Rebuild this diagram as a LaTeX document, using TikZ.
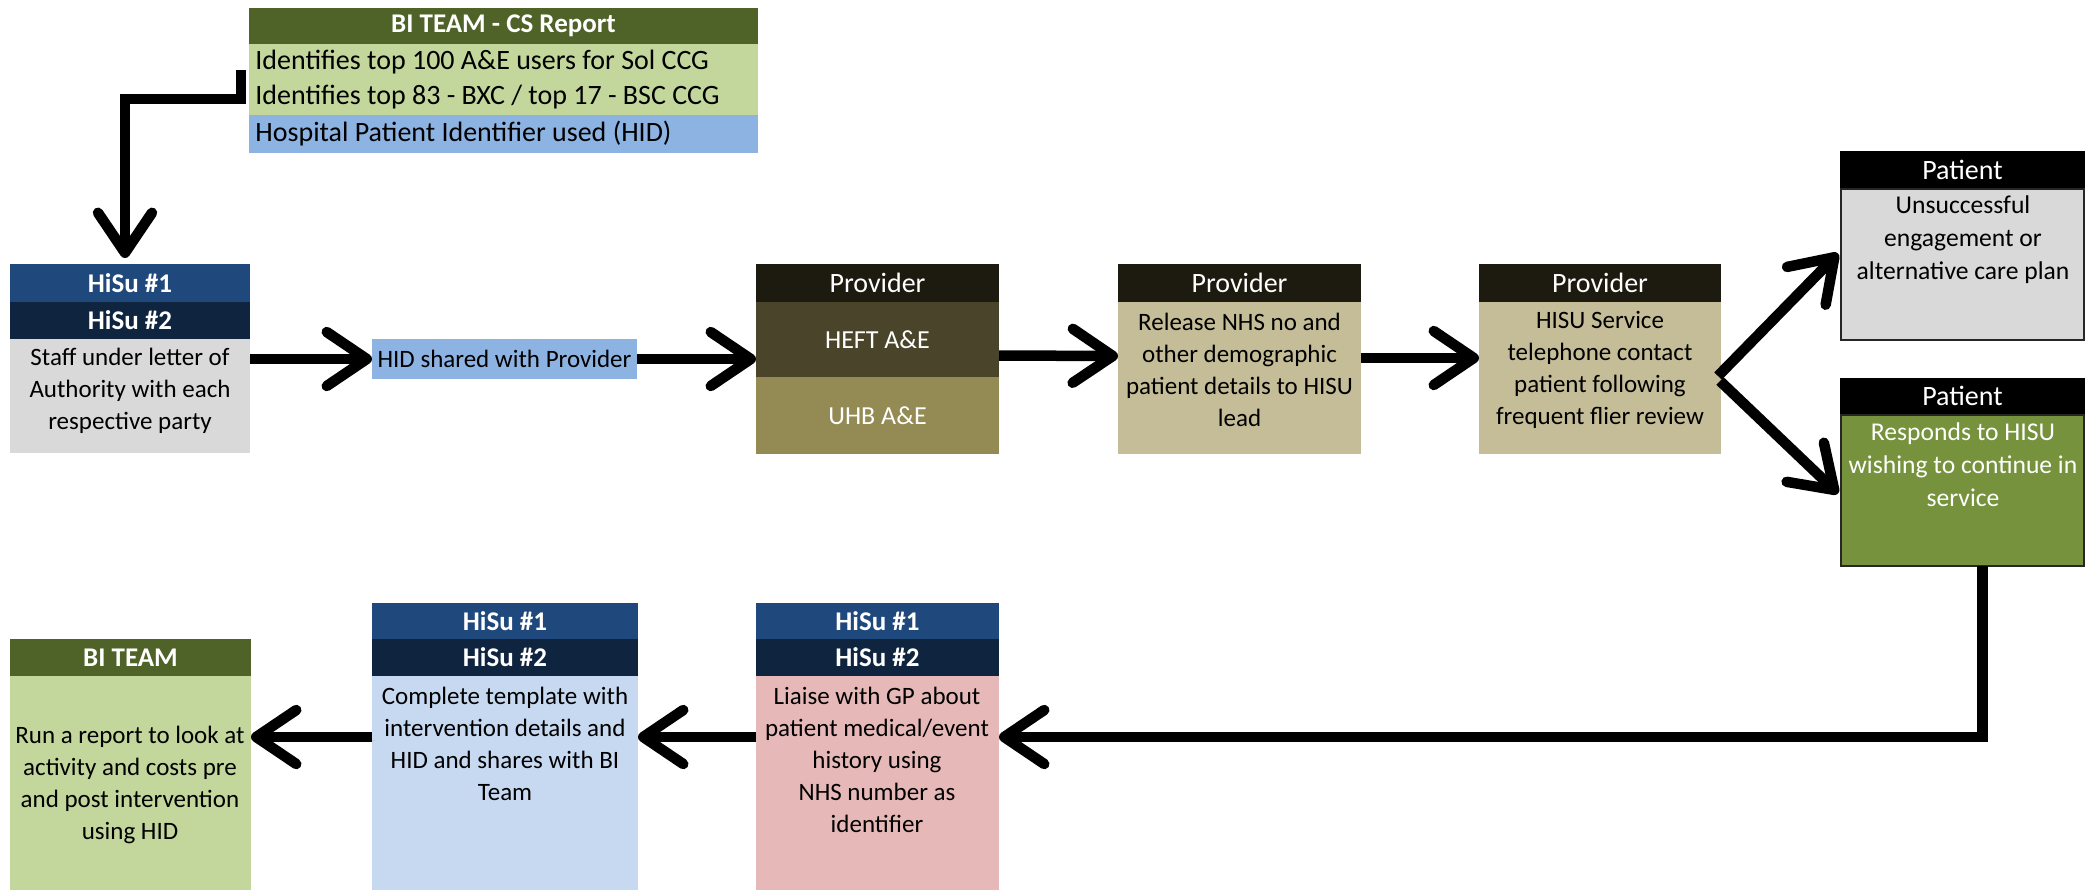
\documentclass[tikz,border=0pt]{standalone}
\usepackage{fontspec}
\setmainfont{Carlito}
\usetikzlibrary{arrows.meta,fit,calc}
\definecolor{oliveD}{HTML}{4F6228}
\definecolor{oliveL}{HTML}{C3D69B}
\definecolor{blueM}{HTML}{8DB3E2}
\definecolor{navyA}{HTML}{1F497D}
\definecolor{navyB}{HTML}{0F243E}
\definecolor{grayL}{HTML}{D9D9D9}
\definecolor{provH}{HTML}{1D1B10}
\definecolor{provA}{HTML}{4A452A}
\definecolor{provB}{HTML}{948A54}
\definecolor{provC}{HTML}{C4BD97}
\definecolor{greenM}{HTML}{76923C}
\definecolor{pinkL}{HTML}{E6B9B8}
\definecolor{blueL}{HTML}{C6D9F1}
\tikzset{
  cell/.style={inner sep=0pt, outer sep=0pt, draw=none},
  hdr/.style={inner sep=0pt, text=white, font=\fontsize{13.5}{16}\selectfont\bfseries},
  phdr/.style={inner sep=0pt, text=white, font=\fontsize{14}{16}\selectfont},
  wtxt/.style={inner sep=0pt, text=white, font=\fontsize{13}{16}\selectfont},
  txt/.style={inner sep=0pt, align=center, font=\fontsize{12.5}{16}\selectfont},
  ptxt/.style={inner sep=0pt, align=center, font=\fontsize{12.8}{16.5}\selectfont},
  ltxt/.style={inner sep=0pt, anchor=west, font=\fontsize{14}{17}\selectfont},
  pbody/.style={cell, draw=black!85, line width=1pt},
  arr/.style={line width=5.25pt, line join=miter,
    -{Straight Barb[length=20pt,width=27pt,line cap=round,line join=round]},
    preaction={draw=black!22, transform canvas={shift={(1.5pt,-1.5pt)}}}},
}
\begin{document}
\begin{tikzpicture}[x=0.5pt,y=-0.5pt]
\useasboundingbox (0,0) rectangle (2089,890);
\fill[white] (0,0) rectangle (2089,890);

% BI TEAM - CS Report
\node[cell, fill=oliveD, fit={(249,8)(758,44)}] (csh) {};
\node[hdr] (csht) at (csh.center) {BI TEAM - CS Report};
\node[cell, fill=oliveL, fit={(249,44)(758,80)}] (cs1) {};
\node[cell, fill=oliveL, fit={(249,80)(758,115)}] (cs2) {};
\node[cell, fill=blueM, fit={(249,115)(758,153)}] (cs3) {};
\node[ltxt] (cs1t) at (255,62) {Identifies top 100 A\&E users for Sol CCG};
\node[ltxt] (cs2t) at (255,97) {Identifies top 83 - BXC / top 17 - BSC CCG};
\node[ltxt] (cs3t) at (255,134) {Hospital Patient Identifier used (HID)};

% HiSu left
\node[cell, fill=navyA, fit={(10,264)(250,302)}] (ha1) {};
\node[hdr] (ha1t) at (ha1.center) {HiSu \#1};
\node[cell, fill=navyB, fit={(10,302)(250,339)}] (ha2) {};
\node[hdr] (ha2t) at (ha2.center) {HiSu \#2};
\node[cell, fill=grayL, fit={(10,339)(250,453)}] (hab) {};
\node[txt] (habt) at (130,391) {Staff under letter of\\Authority with each\\respective party};

% HID shared
\node[cell, fill=blueM, fit={(372,339)(637,379)}] (hid) {};
\node[txt] (hidt) at (hid.center) {HID shared with Provider};

% Provider 1
\node[cell, fill=provH, fit={(756,264)(999,302)}] (p1h) {};
\node[phdr] (p1ht) at (p1h.center) {Provider};
\node[cell, fill=provA, fit={(756,302)(999,377)}] (p1a) {};
\node[wtxt] (p1at) at (p1a.center) {HEFT A\&E};
\node[cell, fill=provB, fit={(756,377)(999,454)}] (p1b) {};
\node[wtxt] (p1bt) at (p1b.center) {UHB A\&E};

% Provider 2
\node[cell, fill=provH, fit={(1118,264)(1361,302)}] (p2h) {};
\node[phdr] (p2ht) at (p2h.center) {Provider};
\node[cell, fill=provC, fit={(1118,302)(1361,454)}] (p2b) {};
\node[txt] (p2t) at (1239.5,369.5) {Release NHS no and\\other demographic\\patient details to HISU\\lead};

% Provider 3
\node[cell, fill=provH, fit={(1479,264)(1721,302)}] (p3h) {};
\node[phdr] (p3ht) at (p3h.center) {Provider};
\node[cell, fill=provC, fit={(1479,302)(1721,454)}] (p3b) {};
\node[txt] (p3t) at (1600,369.5) {HISU Service\\telephone contact\\patient following\\frequent flier review};

% Patients
\node[cell, fill=black, fit={(1840,151)(2085,188)}] (t1h) {};
\node[phdr] (t1ht) at (t1h.center) {Patient};
\node[pbody, fill=grayL, fit={(1841,189)(2084,340)}] (t1b) {};
\node[ptxt] (t1t) at (1963,240) {Unsuccessful\\engagement or\\alternative care plan};
\node[cell, fill=black, fit={(1840,378)(2085,414)}] (t2h) {};
\node[phdr] (t2ht) at (t2h.center) {Patient};
\node[pbody, fill=greenM, fit={(1841,415)(2084,566)}] (t2b) {};
\node[ptxt, text=white] (t2t) at (1963,465) {Responds to HISU\\wishing to continue in\\service};

% Bottom: Liaise
\node[cell, fill=navyA, fit={(756,603)(999,639)}] (lq1) {};
\node[hdr] (lq1t) at (lq1.center) {HiSu \#1};
\node[cell, fill=navyB, fit={(756,639)(999,676)}] (lq2) {};
\node[hdr] (lq2t) at (lq2.center) {HiSu \#2};
\node[cell, fill=pinkL, fit={(756,676)(999,890)}] (lqb) {};
\node[txt] (lqt) at (877,760) {Liaise with GP about\\patient medical/event\\history using\\NHS number as\\identifier};

% Bottom: Complete
\node[cell, fill=navyA, fit={(372,603)(638,639)}] (cp1) {};
\node[hdr] (cp1t) at (cp1.center) {HiSu \#1};
\node[cell, fill=navyB, fit={(372,639)(638,676)}] (cp2) {};
\node[hdr] (cp2t) at (cp2.center) {HiSu \#2};
\node[cell, fill=blueL, fit={(372,676)(638,890)}] (cpb) {};
\node[txt] (cpt) at (505,744) {Complete template with\\intervention details and\\HID and shares with BI\\Team};

% Bottom: BI TEAM
\node[cell, fill=oliveD, fit={(10,639)(251,676)}] (bih) {};
\node[hdr] (biht) at (bih.center) {BI TEAM};
\node[cell, fill=oliveL, fit={(10,676)(251,890)}] (bib) {};
\node[txt] (bit) at (130,785) {Run a report to look at\\activity and costs pre\\and post intervention\\using HID};

% Connectors
\draw[arr] ($(cs1.west)+(-8,8)$) -- ++(0,29) -| ($(ha1.north)+(-5,-6)$);
\draw[arr] (hid.west -| hab.east) -- (hid.west);
\draw[arr] (hid.east) -- (hid.east -| p1a.west);
\draw[arr] ($(p1a.east)+(0,16)$) -- ($(p2b.west)+(0,-22)$);
\draw[arr] ($(p2b.east)+(0,-20)$) -- ($(p3b.west)+(0,-20)$);
\draw[arr] ($(p3b.east)+(-3,-2)$) -- ($(t1b.west)+(-3,-11)$);
\draw[arr] ($(p3b.east)+(-1,3)$) -- ($(t2b.west)+(-3,3)$);
\draw[arr] ($(t2b.south)+(20,0)$) |- ($(lqb.east)+(0,-46)$);
\draw[arr] ($(lqb.west)+(0,-46)$) -- ($(cpb.east)+(0,-46)$);
\draw[arr] ($(cpb.west)+(0,-46)$) -- ($(bib.east)+(0,-46)$);
\end{tikzpicture}
\end{document}
